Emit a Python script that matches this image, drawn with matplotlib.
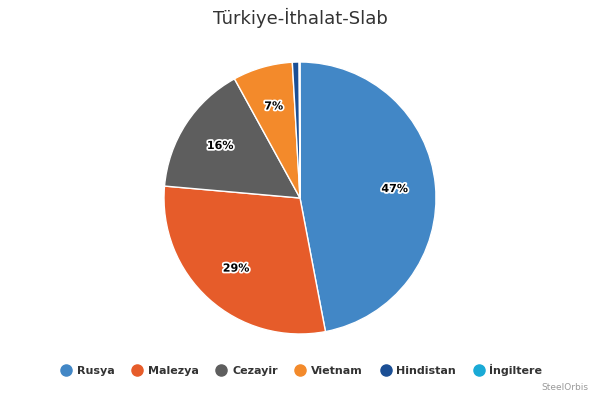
import matplotlib
matplotlib.use("Agg")
import matplotlib.pyplot as plt
import matplotlib.patheffects as pe
from matplotlib.lines import Line2D
import numpy as np

labels = ["Rusya", "Malezya", "Cezayir", "Vietnam", "Hindistan", "İngiltere"]
values = [47.0, 29.4, 15.6, 7.1, 0.8, 0.1]
pct_text = ["47%", "29%", "16%", "7%", "", ""]
colors = ["#4287c6", "#e65c2a", "#5e5e5e", "#f38a2b", "#1b4f95", "#1aaad6"]

fig = plt.figure(figsize=(6, 4), dpi=100)
# pie centre at (300,198) px, radius ~136 px
ax = fig.add_axes([(300 - 136) / 600, 1 - (198 + 136) / 400, 272 / 600, 272 / 400])

ax.pie(values, colors=colors, startangle=90, counterclock=False,
       wedgeprops={"edgecolor": "white", "linewidth": 1})
ax.set_xlim(-1, 1)
ax.set_ylim(-1, 1)
ax.set_aspect("equal")

ang0 = 90.0
total = sum(values)
for v, t in zip(values, pct_text):
    span = 360 * v / total
    mid = np.deg2rad(ang0 - span / 2)
    ang0 -= span
    if t:
        ax.text(0.7 * np.cos(mid), 0.7 * np.sin(mid), t, ha="center", va="center",
                fontsize=8, fontweight="bold", color="black",
                path_effects=[pe.withStroke(linewidth=2.5, foreground="white")])

fig.text(0.5, 0.955, "Türkiye-İthalat-Slab", ha="center", va="center",
         fontsize=13, color="#333333")

handles = [Line2D([], [], marker="o", linestyle="", markersize=8, color=c) for c in colors]
fig.legend(handles, labels, loc="center", bbox_to_anchor=(0.5, 0.075), ncol=6,
           frameon=False, handletextpad=0.2, columnspacing=1.3, handlelength=1.5,
           prop={"size": 8, "weight": "bold"}, labelcolor="#333333")

fig.text(0.98, 0.02, "SteelOrbis", ha="right", va="bottom", fontsize=6.5, color="#999999")

fig.savefig("out.png", dpi=100)
